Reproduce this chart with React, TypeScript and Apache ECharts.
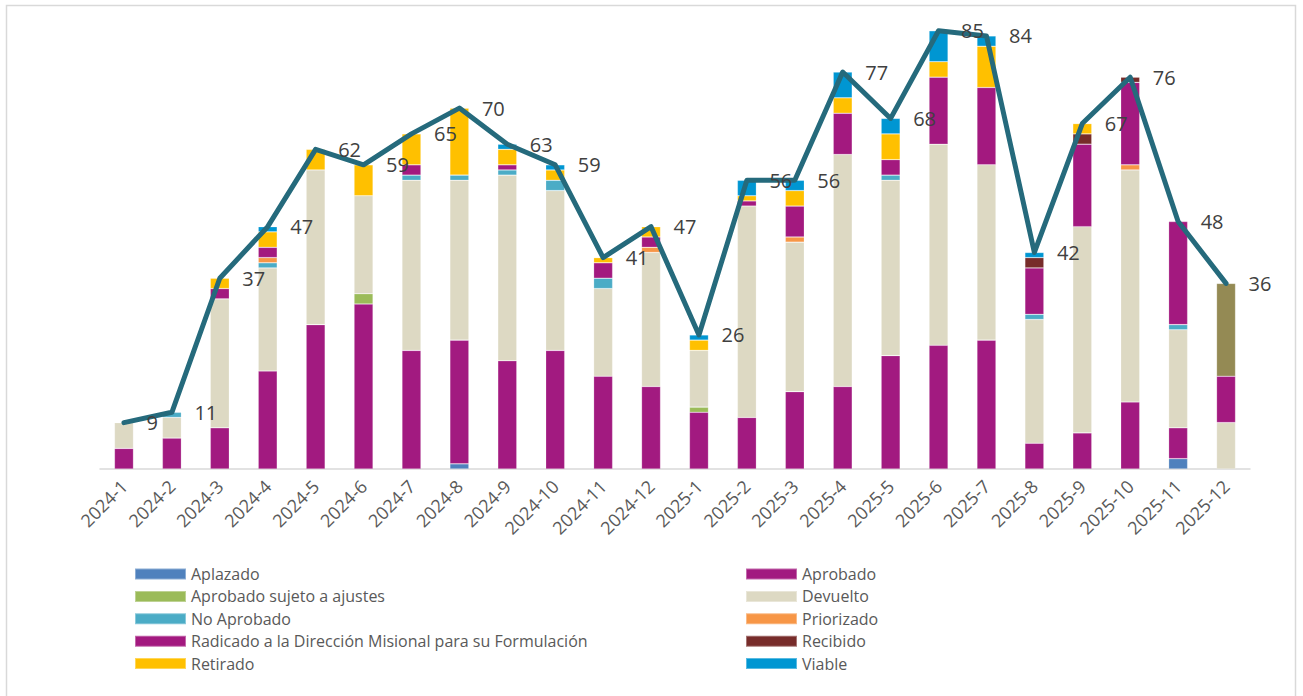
import React, { useEffect, useRef } from "react";
import * as echarts from "echarts";

const months = [
  "2024-1", "2024-2", "2024-3", "2024-4", "2024-5", "2024-6", "2024-7", "2024-8", "2024-9", "2024-10", "2024-11", "2024-12",
  "2025-1", "2025-2", "2025-3", "2025-4", "2025-5", "2025-6", "2025-7", "2025-8", "2025-9", "2025-10", "2025-11", "2025-12",
];

const aplazado = [0, 0, 0, 0, 0, 0, 0, 1, 0, 0, 0, 0, 0, 0, 0, 0, 0, 0, 0, 0, 0, 0, 2, 0];
const aprobado = [4, 6, 8, 19, 28, 32, 23, 24, 21, 23, 18, 16, 11, 10, 15, 16, 22, 24, 25, 5, 7, 13, 6, 0];
const aprobadoSujeto = [0, 0, 0, 0, 0, 2, 0, 0, 0, 0, 0, 0, 1, 0, 0, 0, 0, 0, 0, 0, 0, 0, 0, 0];
const devuelto = [5, 4, 25, 20, 30, 19, 33, 31, 36, 31, 17, 26, 11, 41, 29, 45, 34, 39, 34, 24, 40, 45, 19, 9];
const noAprobado = [0, 1, 0, 1, 0, 0, 1, 1, 1, 2, 2, 0, 0, 0, 0, 0, 1, 0, 0, 1, 0, 0, 1, 0];
const priorizado = [0, 0, 0, 1, 0, 0, 0, 0, 0, 0, 0, 1, 0, 0, 1, 0, 0, 0, 0, 0, 0, 1, 0, 0];
const radicado = [0, 0, 2, 2, 0, 0, 2, 0, 1, 0, 3, 2, 0, 1, 6, 8, 3, 13, 15, 9, 16, 16, 20, 9];
const recibido = [0, 0, 0, 0, 0, 0, 0, 0, 0, 0, 0, 0, 0, 0, 0, 0, 0, 0, 0, 2, 2, 1, 0, 0];
const retirado = [0, 0, 2, 3, 4, 6, 6, 13, 3, 2, 1, 2, 2, 1, 3, 3, 5, 3, 8, 0, 2, 0, 0, 0];
const viable = [0, 0, 0, 1, 0, 0, 0, 0, 1, 1, 0, 0, 1, 3, 2, 5, 3, 6, 2, 1, 0, 0, 0, 0];
const sinEstado = [0, 0, 0, 0, 0, 0, 0, 0, 0, 0, 0, 0, 0, 0, 0, 0, 0, 0, 0, 0, 0, 0, 0, 18];

const totals = [9, 11, 37, 47, 62, 59, 65, 70, 63, 59, 41, 47, 26, 56, 56, 77, 68, 85, 84, 42, 67, 76, 48, 36];

const legendLeft = [
  "Aplazado",
  "Aprobado sujeto a ajustes",
  "No Aprobado",
  "Radicado a la Dirección Misional para su Formulación",
  "Retirado",
];
const legendRight = ["Aprobado", "Devuelto", "Priorizado", "Recibido", "Viable"];

const FONT = "'Open Sans', 'Noto Sans', sans-serif";

export default function App() {
  const ref = useRef<HTMLDivElement>(null);

  useEffect(() => {
    if (!ref.current) return;
    const chart = echarts.init(ref.current, undefined, { renderer: "svg" });

    const stacks: [string, number[], string][] = [
      ["Aplazado", aplazado, "#4F81BD"],
      ["Aprobado", aprobado, "#A21A80"],
      ["Aprobado sujeto a ajustes", aprobadoSujeto, "#9BBB59"],
      ["Devuelto", devuelto, "#DDD9C3"],
      ["No Aprobado", noAprobado, "#4BACC6"],
      ["Priorizado", priorizado, "#F79646"],
      ["Radicado a la Dirección Misional para su Formulación", radicado, "#A3197F"],
      ["Recibido", recibido, "#772C2A"],
      ["Retirado", retirado, "#FFC000"],
      ["Viable", viable, "#0096D2"],
      ["Sin estado", sinEstado, "#948A54"],
    ];

    const barSeries = stacks.map(([name, data, color]) => ({
      name,
      type: "bar",
      stack: "total",
      barWidth: 19,
      data: data.map((v) => (v === 0 ? null : v)),
      itemStyle: { color, borderColor: "rgba(255,255,255,0.35)", borderWidth: 0.6 },
      emphasis: { disabled: true },
    }));

    const legendCommon = {
      orient: "vertical",
      icon: "rect",
      padding: 0,
      itemWidth: 51,
      itemHeight: 11,
      itemGap: 6.4,
      textStyle: { fontSize: 16, lineHeight: 16, color: "#595959", fontFamily: FONT },
    };

    chart.setOption({
      animation: false,
      backgroundColor: "#FFFFFF",
      textStyle: { fontFamily: FONT },
      graphic: [
        {
          type: "rect",
          shape: { x: 6.5, y: 5.5, width: 1289, height: 700 },
          style: { fill: "none", stroke: "#D9D9D9", lineWidth: 1.5 },
          silent: true,
          z: -10,
        },
      ],
      grid: { left: 100, right: 53, top: 5, bottom: 227, containLabel: false },
      legend: [
        { ...legendCommon, left: 134, top: 566, data: legendLeft },
        { ...legendCommon, left: 745, top: 566, data: legendRight },
      ],
      xAxis: {
        type: "category",
        data: months,
        boundaryGap: true,
        axisLine: { lineStyle: { color: "#D9D9D9", width: 1.5 } },
        axisTick: { show: false },
        axisLabel: { rotate: 45, fontSize: 18, color: "#595959", margin: 14, interval: 0, fontFamily: FONT },
      },
      yAxis: {
        type: "value",
        min: 0,
        max: 90,
        show: false,
        splitLine: { show: false },
      },
      series: [
        ...barSeries,
        {
          name: "Total",
          type: "line",
          data: totals,
          showSymbol: true,
          symbol: "circle",
          symbolSize: 1,
          itemStyle: { color: "#256A7C" },
          lineStyle: { color: "#256A7C", width: 5, cap: "round", join: "round" },
          label: {
            show: true,
            position: "right",
            distance: 22,
            fontSize: 20,
            color: "#404040",
            fontFamily: FONT,
          },
          z: 10,
          emphasis: { disabled: true },
        },
      ],
    });

    return () => chart.dispose();
  }, []);

  return (
    <div
      ref={ref}
      style={{ position: "absolute", left: 0, top: 0, width: 1303, height: 696 }}
    />
  );
}
